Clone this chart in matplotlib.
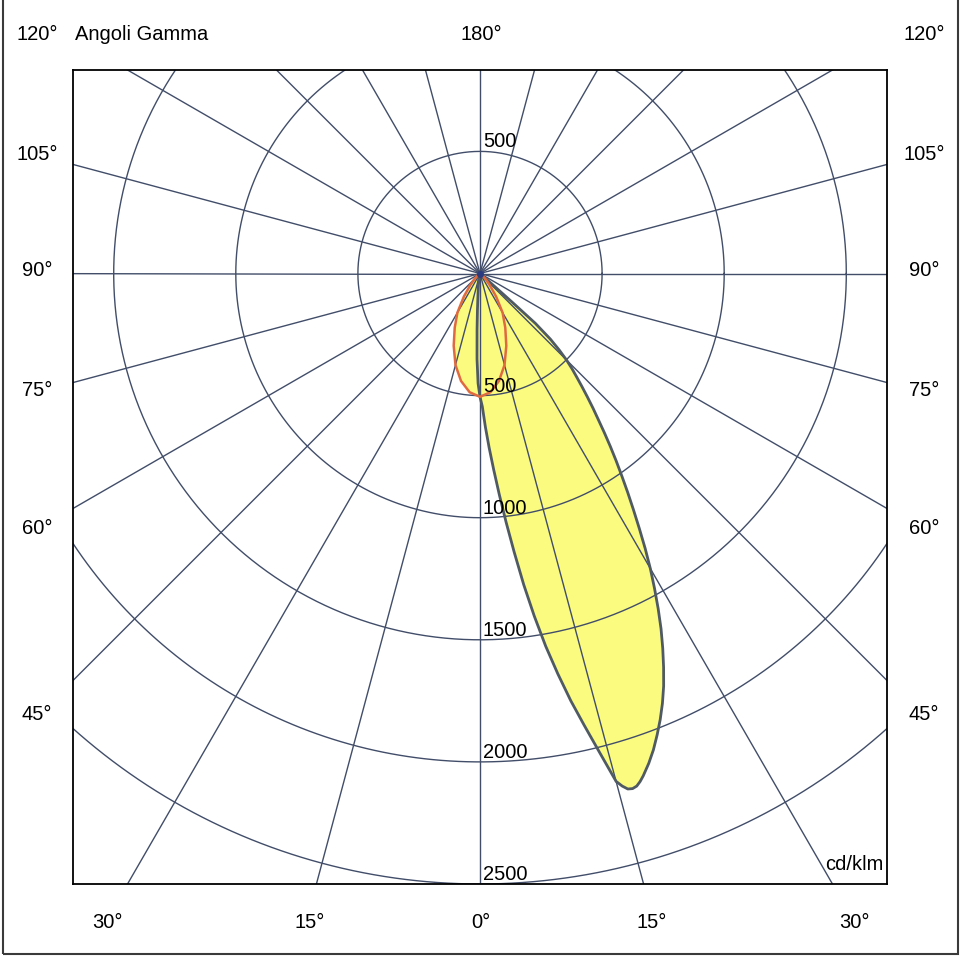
#!/usr/bin/env python3
import numpy as np
import matplotlib
matplotlib.use("Agg")
import matplotlib.pyplot as plt
from matplotlib.patches import Rectangle

# --- Photometric data (cd/klm), gamma angle in degrees from nadir ---
# C0 plane (drawn on the right)
GAMMA_C0 = [0, 1, 2, 3, 4, 5, 6, 7, 8, 9, 10, 11, 12, 13, 14, 15, 15.5, 16,
            16.5, 17, 17.5, 18, 19, 20, 21, 22, 23, 24, 25, 26, 27, 28, 29,
            30, 31, 32, 33, 34, 35, 36, 37, 38, 39, 40, 41, 42, 43, 44, 45,
            46, 47, 48, 48.3, 48.6, 49, 90]
INT_C0 = [505, 545, 628, 714, 806, 910, 1025, 1150, 1287, 1420, 1550, 1670,
          1789, 1900, 2019, 2153, 2178, 2196, 2200, 2195, 2181, 2163, 2122,
          2076, 2024, 1970, 1912, 1849, 1779, 1707, 1633, 1554, 1474, 1395,
          1313, 1231, 1154, 1082, 1013, 949, 887, 827, 770, 720, 671, 625,
          582, 543, 501, 451, 394, 305, 175, 60, 0, 0]

# C180 plane (drawn on the left)
GAMMA_C180 = [0, 1, 2, 3, 4, 5, 7.5, 10, 15, 20, 30, 90]
INT_C180 = [505, 450, 350, 230, 150, 100, 50, 30, 12, 5, 0, 0]

# C90 / C270 plane (symmetric)
GAMMA_C90 = [0, 5, 10, 15, 20, 25, 30, 35, 40, 45, 50, 55, 60, 90]
INT_C90 = [505, 488, 447, 388, 315, 245, 185, 115, 62, 32, 12, 4, 0, 0]

RINGS = [500, 1000, 1500, 2000, 2500]
SPOKE_STEP = 15

SIDE_LABELS = ["120°", "105°", "90°", "75°", "60°", "45°"]
BOTTOM_LABELS = ["30°", "15°", "0°", "15°", "30°"]

FONT = "Liberation Sans"
FS = 14.5
GRID_COL = "#414d69"
FILL_COL = "#fbfb80"
EDGE_COL = "#4f5a62"
RED_COL = "#e06a40"

W = H = 960


def to_xy(gamma, inten, side=1):
    g = np.radians(np.asarray(gamma, dtype=float))
    r = np.asarray(inten, dtype=float)
    return side * r * np.sin(g), -r * np.cos(g)


def closed_curve(g_right, i_right, g_left, i_left):
    xl, yl = to_xy(g_left, i_left, side=-1)
    xr, yr = to_xy(g_right, i_right, side=1)
    x = np.concatenate([xl[::-1], xr])
    y = np.concatenate([yl[::-1], yr])
    return x, y


def px_text(fig, x, y, s, ha="center"):
    # position given in image pixels (origin top-left)
    fig.text(x / W, 1 - y / H, s, ha=ha, va="center",
             fontsize=FS, family=FONT, color="black")


def main():
    fig = plt.figure(figsize=(9.6, 9.6), dpi=100)
    fig.patch.set_facecolor("white")

    # plot box: 814 px square, centre of the luminaire at (481, 271)
    ax = fig.add_axes([73 / W, 1 - 884 / H, 814 / W, 814 / H])
    r_max = RINGS[-1]
    half = (r_max + r_max / 3) / 2
    ax.set_xlim(-half, half)
    ax.set_ylim(-r_max, r_max / 3)
    ax.set_xticks([])
    ax.set_yticks([])
    for sp in ax.spines.values():
        sp.set_color("black")
        sp.set_linewidth(1.3)

    # curves (fill first, grid above the fill, outlines on top)
    x0, y0 = closed_curve(GAMMA_C0, INT_C0, GAMMA_C180, INT_C180)
    x9, y9 = closed_curve(GAMMA_C90, INT_C90, GAMMA_C90, INT_C90)
    ax.fill(x0, y0, color=FILL_COL, lw=0, zorder=1)
    ax.fill(x9, y9, color=FILL_COL, lw=0, zorder=1)

    # polar grid
    t = np.linspace(0, 2 * np.pi, 721)
    for r in RINGS:
        ax.plot(r * np.cos(t), r * np.sin(t), color=GRID_COL, lw=1.0, zorder=2)
    for a in np.arange(0, 360, SPOKE_STEP):
        ar = np.radians(a)
        ax.plot([0, 5000 * np.sin(ar)], [0, -5000 * np.cos(ar)],
                color=GRID_COL, lw=1.0, zorder=2)

    ax.plot(x0, y0, color=EDGE_COL, lw=2.0, zorder=3, solid_joinstyle="round")
    ax.plot(x9, y9, color=RED_COL, lw=1.8, zorder=4, solid_joinstyle="round")
    ax.plot([0], [0], "o", color="#2c3a80", ms=4, zorder=5)

    # ring values
    for r in RINGS:
        ax.text(12, -r, str(r), ha="left", va="bottom", fontsize=FS,
                family=FONT, zorder=6)
    ax.text(12, RINGS[0], str(RINGS[0]), ha="left", va="bottom", fontsize=FS,
            family=FONT, zorder=6)

    # gamma angle labels around the box
    side_y = [35, 155, 271, 390, 528, 715]
    for lab, y in zip(SIDE_LABELS, side_y):
        px_text(fig, 37, y, lab)
        px_text(fig, 924, y, lab)
    bottom_x = [107, 310, 481, 652, 854]
    for lab, x in zip(BOTTOM_LABELS, bottom_x):
        px_text(fig, x, 922, lab)
    px_text(fig, 481, 35, "180°")
    px_text(fig, 75, 35, "Angoli Gamma", ha="left")
    px_text(fig, 884, 864, "cd/klm", ha="right")

    # outer frame of the picture (top edge falls outside the image)
    fig.patches.append(Rectangle((3 / W, 6 / H), 955 / W, 960 / H,
                                 transform=fig.transFigure, fill=False,
                                 edgecolor="#3a3a3a", lw=1.5))

    fig.savefig("out.png", dpi=100)
    plt.close(fig)


if __name__ == "__main__":
    main()
